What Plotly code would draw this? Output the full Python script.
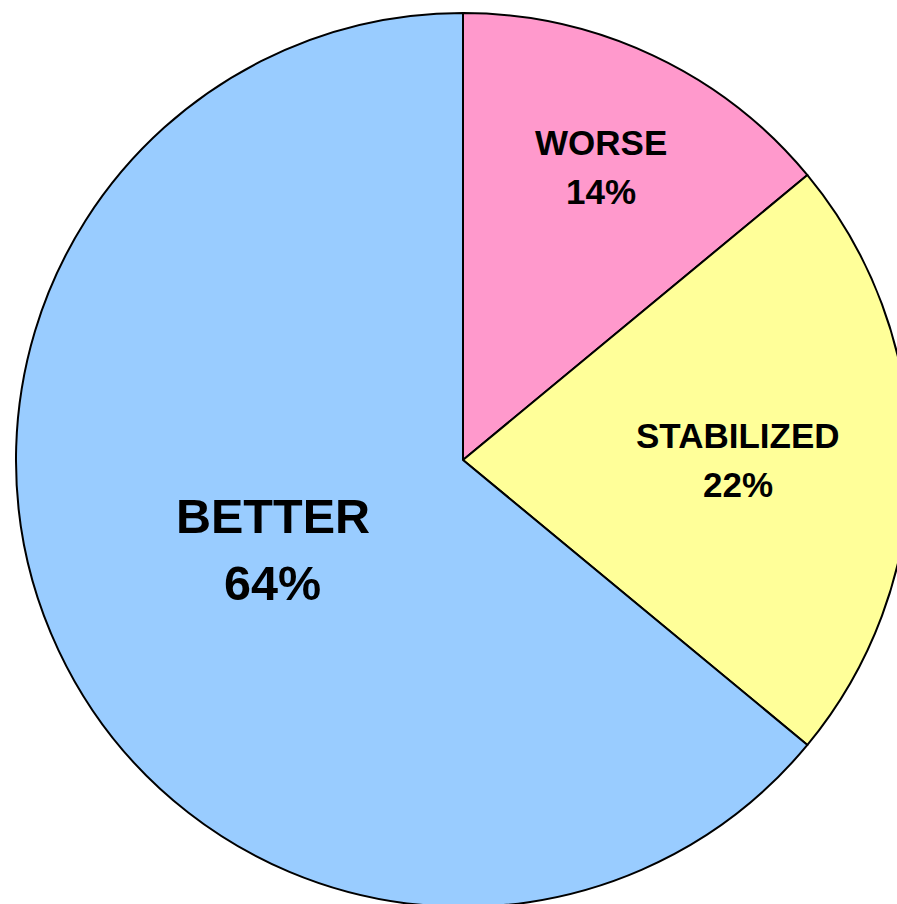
import math
import plotly.graph_objects as go

# Data
categories = ["WORSE", "STABILIZED", "BETTER"]
values = [14, 22, 64]
labels_pct = ["14%", "22%", "64%"]

# Styles
colors = ["#FF99CC", "#FFFF99", "#99CCFF"]
font_sizes = [35, 35, 48.5]
label_radius = [0.725, 0.615, 0.47]
line_gap = 1.4

W, H = 910, 907
ML, MT = 16, 13
side = 894

fig = go.Figure(go.Pie(
    labels=categories,
    values=values,
    sort=False,
    direction="clockwise",
    rotation=0,
    marker=dict(colors=colors, line=dict(color="black", width=2)),
    textinfo="none",
    hoverinfo="label+percent",
    showlegend=False,
    domain=dict(x=[0, 1], y=[0, 1]),
))

total = sum(values)
cum = 0
annotations = []
for cat, v, pct, fs, rf in zip(categories, values, labels_pct, font_sizes, label_radius):
    mid = (cum + v / 2) / total * 2 * math.pi
    cum += v
    x = 0.5 + rf * 0.5 * math.sin(mid)
    y = 0.5 + rf * 0.5 * math.cos(mid)
    half = fs * line_gap / 2
    for txt, shift in ((cat, half), (pct, -half)):
        annotations.append(dict(
            x=x, y=y, xref="paper", yref="paper", yshift=shift,
            text=f"<b>{txt}</b>",
            showarrow=False, xanchor="center", yanchor="middle",
            font=dict(family="Liberation Sans, Arial, sans-serif", size=fs, color="black"),
            align="center",
        ))

fig.update_layout(
    width=W, height=H,
    margin=dict(l=ML, t=MT, r=W - ML - side, b=H - MT - side, pad=0),
    paper_bgcolor="white",
    plot_bgcolor="white",
    annotations=annotations,
)

fig.write_html(
    "out.html",
    post_script="document.documentElement.style.overflow='hidden';document.body.style.overflow='hidden';document.body.style.margin='0';",
)
